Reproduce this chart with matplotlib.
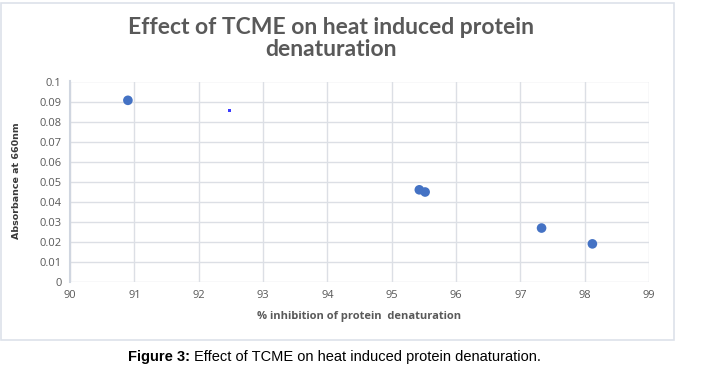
import matplotlib.pyplot as plt
from matplotlib.patches import Rectangle

# data
inhibition = [90.90, 95.43, 95.52, 97.33, 98.12]
absorbance = [0.0906, 0.0459, 0.0448, 0.0268, 0.0189]
stray_x = [92.48]
stray_y = [0.0857]

x_ticks = [90, 91, 92, 93, 94, 95, 96, 97, 98, 99]
y_ticks = [0, 0.01, 0.02, 0.03, 0.04, 0.05, 0.06, 0.07, 0.08, 0.09, 0.1]
y_tick_labels = ["0", "0.01", "0.02", "0.03", "0.04", "0.05", "0.06",
                 "0.07", "0.08", "0.09", "0.1"]

W, H = 712, 381
fig = plt.figure(figsize=(W / 100, H / 100), dpi=100)

# chart frame
fig.patches.append(Rectangle((1 / W, 1 - 340 / H), 673 / W, 337 / H,
                             transform=fig.transFigure, fill=False,
                             edgecolor="#dde2ea", linewidth=1.2))

ax = fig.add_axes([70 / W, 1 - 281.7 / H, 579 / W, 200.2 / H])
ax.scatter(inhibition, absorbance, s=48, color="#4472c4", zorder=3,
           edgecolors="none")
ax.scatter(stray_x, stray_y, s=4, marker="s", color="#3a3aff", zorder=3,
           edgecolors="none")

ax.set_xlim(90, 99)
ax.set_ylim(0, 0.1)
ax.set_xticks(x_ticks)
ax.set_xticklabels([str(t) for t in x_ticks])
ax.set_yticks(y_ticks)
ax.set_yticklabels(y_tick_labels)
ax.grid(True, color="#dcdfe5", linewidth=1)
ax.set_axisbelow(True)
for side in ["top", "right", "bottom"]:
    ax.spines[side].set_visible(False)
ax.spines["left"].set_color("#d0d6e0")
ax.spines["left"].set_linewidth(1.5)
ax.tick_params(length=0, colors="#595959", labelsize=8, pad=6)
for lbl in ax.get_xticklabels() + ax.get_yticklabels():
    lbl.set_family("Open Sans")

ax.set_xlabel("% inhibition of protein  denaturation", fontsize=8,
              fontweight="bold", color="#595959", family="Open Sans",
              labelpad=7)
fig.text(17 / W, 1 - 181 / H, "Absorbance at 660nm", rotation=90,
         ha="center", va="center", fontsize=6.8, fontweight="bold",
         color="#3a3a3a", family="Liberation Sans Narrow")

fig.text(331 / W, 1 - 27 / H, "Effect of TCME on heat induced protein",
         ha="center", va="center", fontsize=16.5, fontweight="bold",
         color="#595959", family="Lato")
fig.text(331 / W, 1 - 50 / H, "denaturation",
         ha="center", va="center", fontsize=16.5, fontweight="bold",
         color="#595959", family="Lato")

# caption under the chart: bold lead followed by regular text
cap_y = 1 - 357 / H
lead = fig.text(128 / W, cap_y, "Figure 3:", ha="left", va="center",
                fontsize=10.5, fontweight="bold", color="black",
                family="Liberation Sans")
fig.canvas.draw()
bb = lead.get_window_extent()
fig.text((bb.x1 + 4) / W, cap_y,
         "Effect of TCME on heat induced protein denaturation.",
         ha="left", va="center", fontsize=10.5, color="black",
         family="Liberation Sans")

fig.savefig("out.png", dpi=100)
